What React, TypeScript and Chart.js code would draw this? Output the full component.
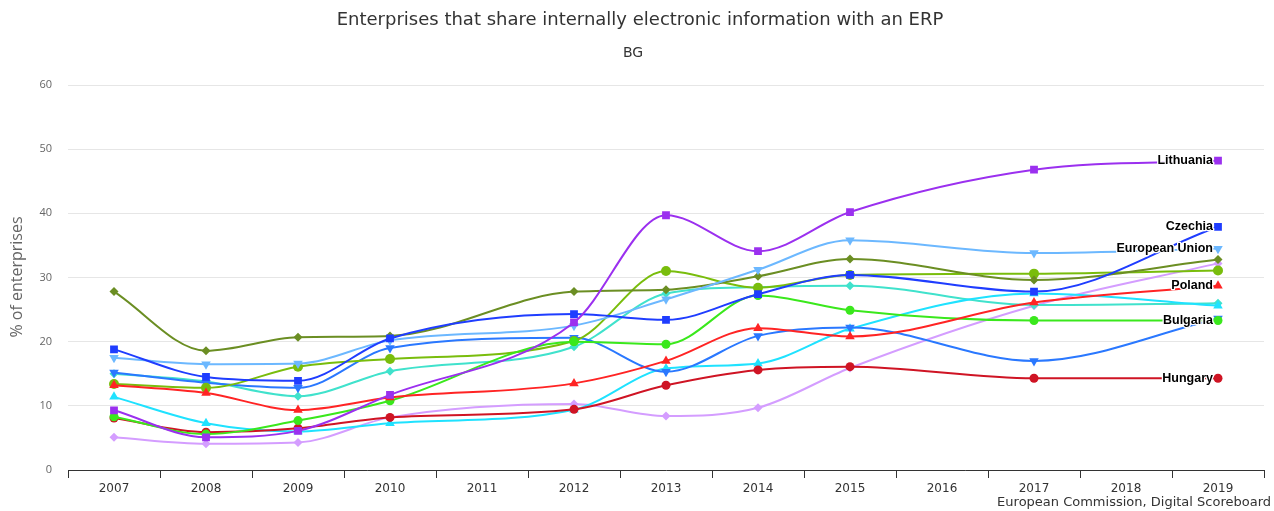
import React, { useEffect, useRef } from 'react';
import { Chart, registerables } from 'chart.js';

Chart.register(...registerables);

const W = 1274;
const H = 511;

const TITLE = 'Enterprises that share internally electronic information with an ERP';
const SUBTITLE = 'BG';
const Y_TITLE = '% of enterprises';
const CREDITS = 'European Commission, Digital Scoreboard';

const years = ['2007', '2008', '2009', '2010', '2011', '2012', '2013', '2014', '2015', '2016', '2017', '2018', '2019'];

const lithuania = [9.3, 5.1, 6.1, 11.7, null, 23.0, 39.7, 34.1, 40.2, null, 46.8, null, 48.2];
const czechia = [18.8, 14.5, 13.9, 20.5, null, 24.3, 23.4, 27.4, 30.4, null, 27.8, null, 37.9];
const europeanUnion = [17.5, 16.5, 16.6, 20.2, null, 22.5, 26.6, 31.2, 35.8, null, 33.8, null, 34.5];
const poland = [13.2, 12.0, 9.35, 11.3, null, 13.5, 17.0, 22.1, 20.8, null, 26.1, null, 28.7];
const bulgaria = [8.3, 5.6, 7.7, 10.8, null, 20.0, 19.6, 27.2, 24.9, null, 23.3, null, 23.3];
const hungary = [8.1, 5.9, 6.5, 8.2, null, 9.45, 13.2, 15.6, 16.1, null, 14.3, null, 14.3];
const seriesOlive = [27.8, 18.6, 20.7, 20.9, null, 27.8, 28.1, 30.2, 32.9, null, 29.6, null, 32.8];
const seriesLime = [13.4, 12.8, 16.1, 17.3, null, 20.1, 31.0, 28.4, 30.4, null, 30.6, null, 31.1];
const seriesBlue = [15.2, 13.6, 12.8, 19.0, null, 20.6, 15.3, 20.9, 22.2, null, 17.0, null, 23.6];
const seriesCyan = [11.4, 7.3, 6.0, 7.3, null, 9.4, 15.8, 16.6, 22.0, null, 27.5, null, 25.6];
const seriesTurquoise = [15.0, 13.8, 11.5, 15.4, null, 19.2, 27.5, 28.5, 28.7, null, 25.7, null, 26.0];
const seriesLavender = [5.1, 4.1, 4.3, 8.2, null, 10.3, 8.4, 9.7, 15.9, null, 25.6, null, 32.2];

// style table (first entry is drawn on top)
const SERIES = [
  { name: 'Lithuania', data: lithuania, color: '#9b30ef', shape: 'rect', r: 5.5, rot: 0, label: true },
  { name: 'Czechia', data: czechia, color: '#1f3dff', shape: 'rect', r: 5.5, rot: 0, label: true },
  { name: 'European Union', data: europeanUnion, color: '#6cb8ff', shape: 'triangle', r: 5.5, rot: 180, label: true },
  { name: 'Poland', data: poland, color: '#ff2424', shape: 'triangle', r: 5.5, rot: 0, label: true },
  { name: 'Bulgaria', data: bulgaria, color: '#3ae81c', shape: 'circle', r: 4.5, rot: 0, label: true },
  { name: 'Hungary', data: hungary, color: '#cf1424', shape: 'circle', r: 4.5, rot: 0, label: true },
  { name: 'Series 7', data: seriesOlive, color: '#6b8e23', shape: 'rectRot', r: 4.5, rot: 0, label: false },
  { name: 'Series 8', data: seriesLime, color: '#79bd0c', shape: 'circle', r: 5, rot: 0, label: false },
  { name: 'Series 9', data: seriesBlue, color: '#2a78ff', shape: 'triangle', r: 5.5, rot: 180, label: false },
  { name: 'Series 10', data: seriesCyan, color: '#1fe2ff', shape: 'triangle', r: 5.5, rot: 0, label: false },
  { name: 'Series 11', data: seriesTurquoise, color: '#40e2cc', shape: 'rectRot', r: 4.5, rot: 0, label: false },
  { name: 'Series 12', data: seriesLavender, color: '#d49dff', shape: 'rectRot', r: 4.5, rot: 0, label: false },
];

const textPlugin = {
  id: 'texts',
  afterDraw(chart: any) {
    const ctx = chart.ctx;
    ctx.save();
    ctx.fillStyle = '#333333';
    ctx.textAlign = 'center';
    ctx.textBaseline = 'middle';
    ctx.font = '18px "DejaVu Sans"';
    ctx.fillText(TITLE, 640, 20);
    ctx.font = '14px "DejaVu Sans"';
    ctx.fillText(SUBTITLE, 633, 53);
    ctx.textAlign = 'right';
    ctx.font = '13px "DejaVu Sans"';
    ctx.fillText(CREDITS, 1271, 503);
    ctx.save();
    ctx.translate(17, 277);
    ctx.rotate(-Math.PI / 2);
    ctx.textAlign = 'center';
    ctx.fillStyle = '#666666';
    ctx.font = '16px "Open Sans"';
    ctx.fillText(Y_TITLE, 0, 0);
    ctx.restore();
    ctx.restore();
  },
  afterDatasetsDraw(chart: any) {
    const ctx = chart.ctx;
    ctx.save();
    ctx.font = 'bold 12.5px "Liberation Sans"';
    ctx.textAlign = 'right';
    ctx.textBaseline = 'middle';
    ctx.lineJoin = 'round';
    SERIES.forEach((s, i) => {
      if (!s.label) return;
      const meta = chart.getDatasetMeta(i);
      let idx = s.data.length - 1;
      while (idx >= 0 && s.data[idx] == null) idx--;
      const pt = meta.data[idx];
      if (!pt) return;
      const x = pt.x - 5;
      const y = pt.y;
      ctx.strokeStyle = '#ffffff';
      ctx.lineWidth = 2.5;
      ctx.strokeText(s.name, x, y);
      ctx.fillStyle = '#000000';
      ctx.fillText(s.name, x, y);
    });
    ctx.restore();
  },
};

export default function App() {
  const ref = useRef<HTMLCanvasElement>(null);
  useEffect(() => {
    const canvas = ref.current;
    if (!canvas) return;
    const datasets = SERIES.map((s) => ({
      label: s.name,
      data: s.data,
      borderColor: s.color,
      backgroundColor: s.color,
      borderWidth: 2,
      pointStyle: s.shape,
      pointRadius: s.r,
      pointRotation: s.rot,
      pointBorderWidth: 0,
      pointBackgroundColor: s.color,
      spanGaps: true,
      cubicInterpolationMode: 'monotone',
      fill: false,
    }));
    const chart = new Chart(canvas, {
      type: 'line',
      data: { labels: years, datasets: datasets as any },
      options: {
        responsive: false,
        animation: false,
        devicePixelRatio: 1,
        layout: { padding: { top: 85, right: 10, left: 0, bottom: 0 } },
        plugins: {
          legend: { display: false },
          tooltip: { enabled: false },
          title: { display: false },
        },
        scales: {
          x: {
            type: 'category',
            offset: true,
            grid: {
              display: true,
              drawOnChartArea: false,
              drawTicks: true,
              tickLength: 8,
              offset: true,
              color: '#333333',
              lineWidth: 1,
            },
            border: { display: true, color: '#333333', width: 1 },
            ticks: {
              color: '#333333',
              font: { family: 'DejaVu Sans', size: 12 },
              padding: 4,
              maxRotation: 0,
              autoSkip: false,
            },
            afterFit: (s: any) => {
              s.height = 41;
            },
          },
          y: {
            min: 0,
            max: 60,
            ticks: {
              stepSize: 10,
              color: '#666666',
              font: { family: 'Open Sans', size: 11 },
              padding: 16,
            },
            grid: { color: '#e6e6e6', drawTicks: false, lineWidth: 1 },
            border: { display: false },
            afterFit: (s: any) => {
              s.width = 68;
            },
          },
        },
      } as any,
      plugins: [textPlugin],
    });
    return () => chart.destroy();
  }, []);
  return (
    <div style={{ position: 'absolute', left: 0, top: 0, width: W, height: H, background: '#ffffff' }}>
      <canvas ref={ref} width={W} height={H} style={{ display: 'block', width: W, height: H }} />
    </div>
  );
}
